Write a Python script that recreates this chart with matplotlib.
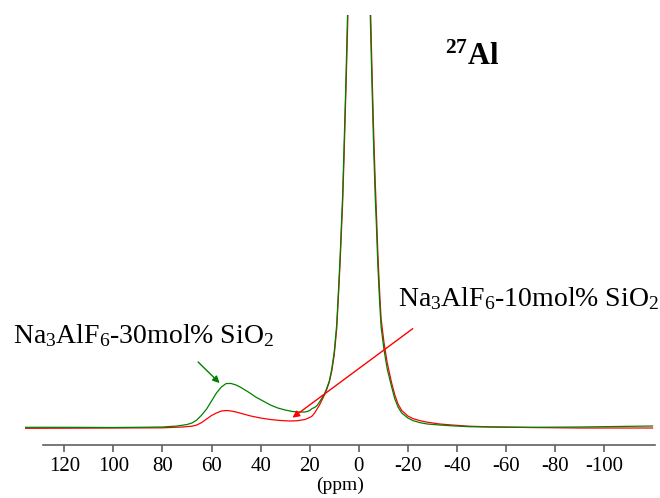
import matplotlib
matplotlib.use('Agg')
import matplotlib.pyplot as plt

plt.rcParams['font.family'] = 'Liberation Serif'
plt.rcParams['mathtext.fontset'] = 'custom'
plt.rcParams['mathtext.rm'] = 'Liberation Serif'
plt.rcParams['mathtext.it'] = 'Liberation Serif:italic'
plt.rcParams['mathtext.bf'] = 'Liberation Serif:bold'

# 27Al spectra, chemical shift (ppm) vs intensity (a.u.)
ppm_30 = [136, 120, 100, 90, 80, 74, 70, 68, 66, 64, 62, 60, 58, 56, 54, 52, 50, 48,
          45, 42, 39, 36, 33, 30, 27, 24, 22, 21, 20, 19, 18, 17, 16, 15, 14, 13, 12,
          11, 10, 9, 8.2, 7.6, 7.0, 6.6, 6.0, 5.2, 4.5, 3.5, 2.5, 1.5, 0.5, 0, -0.5,
          -1.5, -2.5, -3.5, -4.5, -5.2, -6.0, -6.7, -7.1, -7.8, -8.5, -9.1, -10.3,
          -11.6, -13.4, -14.7, -16, -17.5, -20, -22, -25, -28, -33, -38, -45, -55,
          -70, -90, -105, -119.7]
int_30 = [-0.3, -0.3, -0.5, -0.3, 0, 1, 2.5, 4, 7, 12, 18, 26, 34, 40, 43.5, 43.5, 42,
          39.5, 35, 30, 26, 22, 19, 17, 15.5, 15, 15, 15.5, 16.5, 18.5, 19.5, 21.5, 25,
          29, 33, 39, 46, 58, 75, 102, 140, 170, 207, 230, 280, 350, 420, 560, 750,
          1000, 1300, 1400, 1300, 1000, 760, 570, 430, 360, 285, 230, 207, 160, 125,
          100, 77, 58, 40, 28, 20, 14, 9, 6.5, 4.3, 3, 2, 1.2, 0.3, 0, -0.3, 0, 0.5, 1]

ppm_10 = [136, 120, 100, 80, 72, 68, 66, 64, 62, 60, 58, 56, 54, 52, 50, 47, 44, 40,
          36, 32, 28, 25, 22, 21, 20, 19, 18, 17, 16, 15, 14, 13, 12, 11, 10, 9, 8.2,
          7.6, 7.0, 6.6, 6.0, 5.2, 4.5, 3.5, 2.5, 1.5, 0.5, 0, -0.5, -1.5, -2.5, -3.5,
          -4.5, -5.2, -6.0, -6.7, -7.1, -7.8, -8.5, -9.1, -10.3, -11.6, -13.4, -14.7,
          -16, -17.5, -20, -22, -25, -28, -33, -38, -45, -55, -70, -90, -105, -119.7]
int_10 = [-1.3, -1.2, -1, -0.8, 0, 0.8, 2, 4.5, 8, 11.5, 14, 16, 16.5, 16, 15, 13, 11,
          9, 7.5, 6.5, 6, 6.3, 7.5, 8.5, 9.5, 11, 14, 18, 22, 27, 32, 38, 45, 56, 72,
          98, 135, 165, 200, 222, 270, 340, 405, 540, 720, 960, 1250, 1380, 1350,
          1050, 800, 600, 450, 375, 300, 245, 220, 172, 135, 108, 84, 64, 44, 32, 23,
          16.5, 11, 8.5, 6.3, 4.8, 3, 2, 0.8, 0, -0.5, -1, -1, -1]

ticks = [120, 100, 80, 60, 40, 20, 0, -20, -40, -60, -80, -100]

fig = plt.figure(figsize=(6.6, 4.98), dpi=100)
ax = fig.add_axes([0.0379, 0.107, 0.9545, 0.863])

ax.plot(ppm_10, int_10, color='#ff0000', lw=0.9)
ax.plot(ppm_30, int_30, color='#008000', lw=0.9)

ax.set_xlim(136, -120.7)
ax.set_ylim(-17.7, 412)

for s in ['top', 'left', 'right']:
    ax.spines[s].set_visible(False)
ax.spines['bottom'].set_bounds(128.5, -120.7)
ax.spines['bottom'].set_color('#606060')
ax.spines['bottom'].set_linewidth(1.2)
ax.set_yticks([])
ax.set_xticks(ticks)
ax.set_xticklabels([str(t) for t in ticks])
ax.tick_params(axis='x', direction='out', length=5, width=1.2, color='#606060',
               labelsize=15, pad=4)
ax.set_xlabel('(ppm)', fontsize=14, labelpad=0)

ax.annotate('', xy=(55.9, 42), xytext=(66.3, 67),
            arrowprops=dict(arrowstyle='-|>', color='#008000', lw=1, mutation_scale=10))
ax.annotate('', xy=(27.9, 7.7), xytext=(-22.9, 100),
            arrowprops=dict(arrowstyle='-|>', color='#ff0000', lw=1, mutation_scale=10))

fig.text(0.0192, 0.3106, 'Na$_3$AlF$_6$-30mol% SiO$_2$', fontsize=20, va='baseline')
fig.text(0.6035, 0.3855, 'Na$_3$AlF$_6$-10mol% SiO$_2$', fontsize=20, va='baseline')
fig.text(0.674, 0.8695, r'$\mathbf{^{27}}$Al', fontsize=22, fontweight='bold',
         va='baseline')

fig.savefig('out.png', dpi=100)
